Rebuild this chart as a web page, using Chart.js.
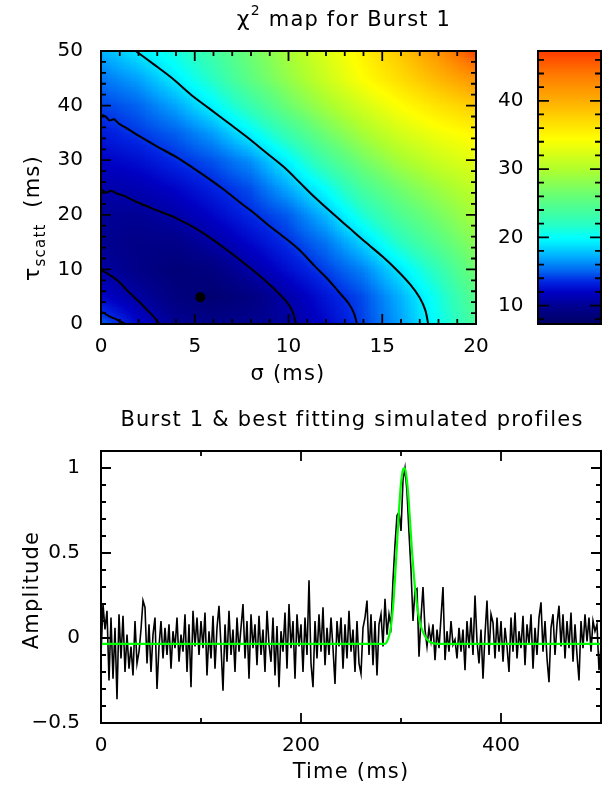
<!DOCTYPE html>
<html>
<head>
<meta charset="utf-8">
<script src="https://cdn.jsdelivr.net/npm/chart.js@4.4.1/dist/chart.umd.min.js"></script>
<style>
  html, body { margin: 0; padding: 0; background: #fff; }
  #wrap { position: relative; width: 613px; height: 788px; }
  canvas { position: absolute; left: 0; }
</style>
</head>
<body>
<div id="wrap">
  <canvas id="mapChart" width="613" height="395" style="top:0"></canvas>
  <canvas id="profileChart" width="613" height="393" style="top:395px"></canvas>
</div>
<script>
// ---- chi^2 map (values at the grid nodes) ----
var sigmaNodes = [0, 2, 4, 6, 8, 10, 12, 14, 16, 18, 20];
var tauNodes = [0, 5, 10, 15, 20, 25, 30, 35, 40, 45, 50];
var chiRows = [ // one row per tau node, columns = sigmaNodes
    [15.0, 12.4, 10.0, 9.5, 9.8, 10.5, 12.2, 14.2, 16.9, 20.3, 24.0],
    [12.3, 10.7, 9.0, 8.1, 9.0, 11.0, 12.9, 14.5, 17.4, 20.8, 25.0],
    [10.8, 9.4, 8.5, 9.0, 10.9, 12.6, 14.2, 16.0, 19.1, 22.5, 26.5],
    [10.0, 9.4, 9.5, 10.8, 12.3, 13.8, 15.6, 18.4, 22.0, 25.0, 28.0],
    [10.2, 10.1, 10.9, 12.2, 13.6, 14.9, 17.6, 21.3, 24.5, 27.0, 29.5],
    [11.0, 11.3, 12.2, 13.4, 14.6, 17.2, 20.2, 24.0, 26.8, 29.0, 31.0],
    [12.0, 12.6, 13.7, 14.7, 16.4, 19.6, 23.5, 26.8, 29.5, 31.5, 33.0],
    [13.1, 14.0, 15.0, 16.8, 19.6, 23.0, 26.5, 29.5, 32.0, 33.8, 35.0],
    [14.2, 15.1, 17.0, 19.6, 22.8, 26.3, 29.3, 32.0, 34.5, 36.5, 38.0],
    [15.6, 16.9, 19.3, 22.0, 25.5, 28.5, 31.5, 34.5, 37.0, 39.5, 42.0],
    [17.3, 19.2, 21.0, 23.5, 26.5, 29.5, 32.5, 35.5, 38.5, 42.0, 46.8]
];
var chiRange = [7.3, 47.3];

// contour lines, [sigma, tau] pairs
var contourOuter = [[1.85, 50], [2.8, 47.6], [3.8, 45.0], [4.8, 42.0], [5.8, 39.4], [6.8, 36.8], [7.8, 34.2],
    [8.8, 31.4], [9.8, 28.6], [10.6, 25.9], [11.4, 23.2], [12.3, 20.4], [13.2, 17.7], [14.1, 15.0], [15.0, 12.4],
    [15.8, 9.8], [16.5, 7.2], [17.0, 4.8], [17.3, 2.5], [17.45, 0]];
var contourMid = [[0, 38.3], [0.25, 38.0], [0.45, 37.3], [0.7, 37.5], [0.95, 36.7], [1.3, 36.0], [2.0, 34.5],
    [3.0, 32.5], [4.0, 30.6], [4.9, 28.6], [5.8, 26.5], [6.6, 24.5], [7.4, 22.3], [8.2, 20.2], [9.0, 17.9],
    [9.8, 15.8], [10.6, 13.5], [11.4, 10.6], [12.1, 8.2], [12.65, 6.0], [13.2, 3.8], [13.5, 1.9], [13.65, 0]];
var contourInner = [[0, 24.6], [0.3, 24.1], [0.55, 24.4], [0.85, 23.9], [1.2, 23.5], [2.0, 22.2], [3.0, 20.8],
    [4.0, 19.4], [5.0, 17.6], [5.9, 15.6], [6.7, 13.6], [7.5, 11.5], [8.3, 9.3], [9.0, 7.2], [9.6, 5.2],
    [10.0, 3.6], [10.25, 2.0], [10.4, 0]];
var cornerInner = [[0, 9.9], [0.45, 9.0], [0.9, 7.9], [1.5, 5.8], [2.0, 4.2], [2.45, 2.6], [2.8, 1.4], [3.1, 0]];
var cornerMid = [[0, 2.3], [0.45, 1.4], [0.85, 0.8], [1.3, 0]];
var bestFit = [[5.3, 4.9]];

var sigmaTicks = [0, 5, 10, 15, 20];
var tauTicks = [0, 10, 20, 30, 40, 50];
var chiTicks = [10, 20, 30, 40];

// ---- burst profile ----
var timeStep = 2; // ms per sample
var profileData = [
    -0.10, 0.20, 0.05, 0.16, -0.25, 0.12, -0.24, 0.06, -0.36, 0.14,
    -0.12, 0.13, -0.20, 0.02, -0.18, -0.05, -0.22, 0.10, -0.15, -0.08,
    0.05, 0.22, 0.18, -0.15, 0.08, -0.20, 0.02, 0.12, -0.30, -0.05,
    0.10, -0.12, 0.06, -0.10, 0.08, -0.18, 0.04, -0.06, 0.12, -0.14,
    0.02, -0.08, 0.14, -0.20, 0.08, -0.29, 0.16, -0.05, 0.12, -0.10,
    0.10, -0.06, 0.15, -0.22, 0.04, -0.12, 0.13, -0.18, 0.06, 0.19,
    -0.05, -0.31, 0.08, -0.14, 0.16, -0.10, 0.05, -0.20, 0.12, -0.08,
    0.06, 0.20, -0.12, 0.10, -0.24, 0.14, -0.06, 0.08, -0.16, 0.13,
    -0.10, 0.05, -0.20, 0.16, -0.04, -0.14, 0.12, -0.22, 0.07, -0.29,
    0.04, -0.08, 0.15, -0.18, 0.20, -0.06, 0.10, -0.24, 0.14, -0.05,
    0.08, -0.20, 0.12, -0.10, 0.34, -0.15, -0.29, 0.10, -0.12, 0.14,
    -0.08, 0.18, -0.16, 0.06, -0.10, 0.12, -0.06, -0.27, 0.10, -0.05,
    0.12, -0.18, 0.08, -0.12, 0.16, -0.08, 0.05, -0.20, 0.10, -0.15,
    -0.21, 0.06, 0.12, 0.22, -0.10, 0.14, -0.16, 0.10, -0.22, 0.08,
    0.14, -0.05, 0.23, 0.02, 0.14, 0.07, 0.34, 0.55, 0.72, 0.74,
    0.63, 0.93, 1.00, 0.86, 0.62, 0.40, 0.10, 0.28, 0.29, -0.11,
    0.12, 0.30, 0.05, -0.05, 0.06, -0.02, 0.08, -0.13, 0.05, -0.06,
    0.12, 0.30, -0.13, 0.04, -0.08, 0.10, -0.04, -0.01, -0.12, 0.06,
    -0.08, 0.05, -0.19, 0.10, -0.06, 0.12, -0.10, 0.25, -0.02, -0.15,
    0.05, -0.24, 0.02, 0.22, -0.10, 0.14, 0.09, -0.12, 0.12, -0.08,
    0.10, -0.14, 0.06, -0.05, -0.20, 0.12, -0.08, 0.15, -0.12, 0.04,
    -0.06, 0.13, -0.16, 0.08, -0.04, 0.14, -0.18, 0.06, -0.10, 0.12,
    0.21, -0.08, 0.10, -0.12, -0.26, 0.06, 0.14, -0.10, 0.08, 0.19,
    -0.05, 0.14, -0.12, 0.10, -0.06, 0.15, -0.14, 0.08, -0.10, -0.25,
    0.10, -0.06, 0.14, -0.02, 0.12, -0.08, 0.10, 0.04, 0.08, -0.19,
    -0.05
];
var fitTimes = [0, 284, 286, 288, 290, 292, 294, 296, 298, 300, 302, 303.5, 305, 307, 309, 311, 313, 315, 317, 319, 321, 324, 327, 331, 337, 500];
var fitValues = [-0.035, -0.035, -0.02, 0.01, 0.07, 0.18, 0.35, 0.55, 0.75, 0.91, 0.99, 1.0, 0.97, 0.86, 0.69, 0.51, 0.36, 0.24, 0.15, 0.09, 0.05, 0.01, -0.015, -0.03, -0.035, -0.035];

var timeTicks = [0, 200, 400];
var ampTicks = [-0.5, 0, 0.5, 1];

// ---------------------------------------------------------------
var FONT = '"DejaVu Sans", sans-serif';
var tickFont = { family: FONT, size: 20 };

var cmap = [
    [7.3, 0, 0, 100], [10, 0, 0, 145], [12, 0, 0, 195], [13.5, 0, 35, 225], [15, 0, 95, 240],
    [17, 0, 165, 255], [19, 0, 230, 255], [20, 0, 255, 255], [22, 40, 255, 195], [24, 70, 255, 155],
    [26, 100, 255, 120], [30, 175, 255, 45], [34.5, 255, 255, 0], [37, 255, 220, 0], [40, 255, 175, 0],
    [44, 255, 120, 0], [47.3, 255, 60, 0]
];

function chiColour(v) {
    if (v <= cmap[0][0]) return 'rgb(' + cmap[0].slice(1).join(',') + ')';
    for (var k = 1; k < cmap.length; k++) {
        if (v <= cmap[k][0]) {
            var a = cmap[k - 1], b = cmap[k], f = (v - a[0]) / (b[0] - a[0]);
            return 'rgb(' + Math.round(a[1] + (b[1] - a[1]) * f) + ',' +
                Math.round(a[2] + (b[2] - a[2]) * f) + ',' + Math.round(a[3] + (b[3] - a[3]) * f) + ')';
        }
    }
    return 'rgb(' + cmap[cmap.length - 1].slice(1).join(',') + ')';
}

function fixedTicks(list) {
    return function (scale) { scale.ticks = list.map(function (v) { return { value: v }; }); };
}

function toPoints(pairs) {
    return pairs.map(function (p) { return { x: p[0], y: p[1] }; });
}

// inward tick marks on both edges of an axis
function edgeTicks(ctx, scale, step, len, area, horizontal) {
    var n0 = Math.ceil(scale.min / step - 1e-6), n1 = Math.floor(scale.max / step + 1e-6);
    for (var n = n0; n <= n1; n++) {
        var p = scale.getPixelForValue(n * step);
        if (horizontal) {
            ctx.moveTo(p, area.bottom); ctx.lineTo(p, area.bottom - len);
            ctx.moveTo(p, area.top); ctx.lineTo(p, area.top + len);
        } else {
            ctx.moveTo(area.left, p); ctx.lineTo(area.left + len, p);
            ctx.moveTo(area.right, p); ctx.lineTo(area.right - len, p);
        }
    }
}

function drawText(ctx, parts, x, y, angle) {
    ctx.save();
    ctx.translate(x, y);
    ctx.rotate(angle || 0);
    ctx.fillStyle = '#000';
    ctx.textBaseline = 'alphabetic';
    ctx.textAlign = 'left';
    try { ctx.letterSpacing = '1.2px'; } catch (e) {}
    var widths = parts.map(function (p) {
        ctx.font = p.size + 'px ' + FONT;
        return ctx.measureText(p.text).width;
    });
    var cx = -widths.reduce(function (a, b) { return a + b; }, 0) / 2;
    parts.forEach(function (p, i) {
        ctx.font = p.size + 'px ' + FONT;
        ctx.fillText(p.text, cx, p.dy || 0);
        cx += widths[i];
    });
    ctx.restore();
}

// axes frame + ticks
var framePlugin = {
    id: 'frame',
    afterDatasetsDraw: function (chart, args, opts) {
        var ctx = chart.ctx, a = chart.chartArea;
        ctx.save();
        ctx.strokeStyle = '#000';
        ctx.lineWidth = 1.8;
        ctx.beginPath();
        edgeTicks(ctx, chart.scales.x, opts.xMajor, 10, a, true);
        edgeTicks(ctx, chart.scales.x, opts.xMinor, 5, a, true);
        edgeTicks(ctx, chart.scales.y, opts.yMajor, 10, a, false);
        edgeTicks(ctx, chart.scales.y, opts.yMinor, 5, a, false);
        ctx.stroke();
        ctx.lineWidth = 2;
        ctx.strokeRect(a.left, a.top, a.right - a.left, a.bottom - a.top);
        ctx.restore();
    }
};

var labelPlugin = {
    id: 'labels',
    afterDraw: function (chart, args, opts) {
        opts.items.forEach(function (it) {
            drawText(chart.ctx, it.parts, it.x, it.y, it.angle);
        });
    }
};

var heatmapPlugin = {
    id: 'heatmap',
    beforeDatasetsDraw: function (chart) {
        var ctx = chart.ctx, xs = chart.scales.x, ys = chart.scales.y, sub = 16;
        ctx.save();
        for (var j = 0; j < tauNodes.length - 1; j++) {
            for (var i = 0; i < sigmaNodes.length - 1; i++) {
                var s0 = sigmaNodes[i], s1 = sigmaNodes[i + 1], t0 = tauNodes[j], t1 = tauNodes[j + 1];
                var c00 = chiRows[j][i], c10 = chiRows[j][i + 1], c01 = chiRows[j + 1][i], c11 = chiRows[j + 1][i + 1];
                for (var b = 0; b < sub; b++) {
                    for (var q = 0; q < sub; q++) {
                        var u = (q + 0.5) / sub, w = (b + 0.5) / sub;
                        var v = (1 - u) * (1 - w) * c00 + u * (1 - w) * c10 + (1 - u) * w * c01 + u * w * c11;
                        var xa = Math.floor(xs.getPixelForValue(s0 + (s1 - s0) * q / sub));
                        var xb = Math.ceil(xs.getPixelForValue(s0 + (s1 - s0) * (q + 1) / sub));
                        var ya = Math.floor(ys.getPixelForValue(t0 + (t1 - t0) * (b + 1) / sub));
                        var yb = Math.ceil(ys.getPixelForValue(t0 + (t1 - t0) * b / sub));
                        ctx.fillStyle = chiColour(v);
                        ctx.fillRect(xa, ya, xb - xa, yb - ya);
                    }
                }
            }
        }
        ctx.restore();
    }
};

var colourbarPlugin = {
    id: 'colourbar',
    afterDraw: function (chart, args, opts) {
        var ctx = chart.ctx, cs = chart.scales.cb, x0 = opts.left, x1 = opts.right;
        ctx.save();
        for (var v = chiRange[0]; v < chiRange[1]; v += 0.1) {
            var ya = Math.floor(cs.getPixelForValue(Math.min(v + 0.1, chiRange[1])));
            var yb = Math.ceil(cs.getPixelForValue(v));
            ctx.fillStyle = chiColour(v + 0.05);
            ctx.fillRect(x0, ya, x1 - x0, yb - ya);
        }
        var top = cs.getPixelForValue(chiRange[1]), bot = cs.getPixelForValue(chiRange[0]);
        ctx.strokeStyle = '#000';
        ctx.lineWidth = 1.8;
        ctx.beginPath();
        for (var n = 4; n <= 46; n += 2) {
            var p = cs.getPixelForValue(n);
            if (p < top || p > bot) continue;
            var len = n % 10 === 0 ? 11 : 6;
            ctx.moveTo(x0, p); ctx.lineTo(x0 + len, p);
            ctx.moveTo(x1, p); ctx.lineTo(x1 - len, p);
        }
        ctx.stroke();
        ctx.lineWidth = 2;
        ctx.strokeRect(x0, top, x1 - x0, bot - top);
        ctx.restore();
    }
};

function contourSet(pairs) {
    return {
        data: toPoints(pairs), showLine: true, borderColor: '#000', borderWidth: 2,
        pointRadius: 0, tension: 0.3, fill: false
    };
}

var axisCommon = {
    grid: { display: false, drawTicks: false },
    border: { display: false }
};

new Chart(document.getElementById('mapChart'), {
    type: 'scatter',
    data: {
        datasets: [
            contourOuter, contourMid, contourInner, cornerInner, cornerMid
        ].map(contourSet).concat([{
            data: toPoints(bestFit), pointRadius: 5, pointBackgroundColor: '#000', pointBorderWidth: 0
        }])
    },
    options: {
        responsive: false,
        animation: false,
        layout: { padding: { top: 51, left: 0, right: 0, bottom: 0 } },
        plugins: {
            legend: { display: false },
            tooltip: { enabled: false },
            frame: { xMajor: 5, xMinor: 1, yMajor: 10, yMinor: 2 },
            colourbar: { left: 538, right: 601 },
            labels: {
                items: [
                    { parts: [{ text: '\u03c7', size: 22 }, { text: '2', size: 14, dy: -11 }, { text: ' map for Burst 1', size: 21 }], x: 344, y: 26 },
                    { parts: [{ text: '\u03c3 (ms)', size: 21 }], x: 288, y: 380 },
                    { parts: [{ text: '\u03c4', size: 22 }, { text: 'scatt', size: 15, dy: 6 }, { text: '  (ms)', size: 21 }], x: 39, y: 218, angle: -Math.PI / 2 }
                ]
            }
        },
        scales: {
            x: Object.assign({
                type: 'linear', min: 0, max: 20,
                afterBuildTicks: fixedTicks(sigmaTicks),
                afterFit: function (s) { s.height = 395 - 324; },
                ticks: { font: tickFont, color: '#000', padding: 11, maxRotation: 0 }
            }, axisCommon),
            y: Object.assign({
                type: 'linear', min: 0, max: 50, position: 'left',
                afterBuildTicks: fixedTicks(tauTicks),
                afterFit: function (s) { s.width = 101; },
                ticks: { font: tickFont, color: '#000', padding: 18 }
            }, axisCommon),
            cb: Object.assign({
                type: 'linear', min: chiRange[0], max: chiRange[1], position: 'right',
                afterBuildTicks: fixedTicks(chiTicks),
                afterFit: function (s) { s.width = 613 - 476; },
                ticks: { font: tickFont, color: '#000', padding: 22 }
            }, axisCommon)
        }
    },
    plugins: [heatmapPlugin, framePlugin, colourbarPlugin, labelPlugin]
});

new Chart(document.getElementById('profileChart'), {
    type: 'scatter',
    data: {
        datasets: [{
            data: fitTimes.map(function (t, i) { return { x: t, y: fitValues[i] }; }),
            showLine: true, borderColor: '#00ff00', borderWidth: 2.2, pointRadius: 0,
            cubicInterpolationMode: 'monotone', order: 0
        }, {
            data: profileData.map(function (v, i) { return { x: i * timeStep, y: v }; }),
            showLine: true, borderColor: '#000', borderWidth: 1.6, pointRadius: 0, order: 1
        }]
    },
    options: {
        responsive: false,
        animation: false,
        layout: { padding: { top: 451 - 395, left: 0, right: 613 - 601, bottom: 0 } },
        plugins: {
            legend: { display: false },
            tooltip: { enabled: false },
            frame: { xMajor: 200, xMinor: 100, yMajor: 0.5, yMinor: 0.1 },
            labels: {
                items: [
                    { parts: [{ text: 'Burst 1 & best fitting simulated profiles', size: 21 }], x: 352, y: 426 - 395 },
                    { parts: [{ text: 'Time (ms)', size: 21 }], x: 351, y: 778 - 395 },
                    { parts: [{ text: 'Amplitude', size: 21 }], x: 38, y: 590 - 395, angle: -Math.PI / 2 }
                ]
            }
        },
        scales: {
            x: Object.assign({
                type: 'linear', min: 0, max: 500,
                afterBuildTicks: fixedTicks(timeTicks),
                afterFit: function (s) { s.height = 393 - (723 - 395); },
                ticks: { font: tickFont, color: '#000', padding: 11, maxRotation: 0 }
            }, axisCommon),
            y: Object.assign({
                type: 'linear', min: -0.5, max: 1.1, position: 'left',
                afterBuildTicks: fixedTicks(ampTicks),
                afterFit: function (s) { s.width = 101; },
                ticks: {
                    font: tickFont, color: '#000', padding: 21,
                    callback: function (v) { return (v < 0 ? '\u2212' : '') + Math.abs(v); }
                }
            }, axisCommon)
        }
    },
    plugins: [framePlugin, labelPlugin]
});
</script>
</body>
</html>
